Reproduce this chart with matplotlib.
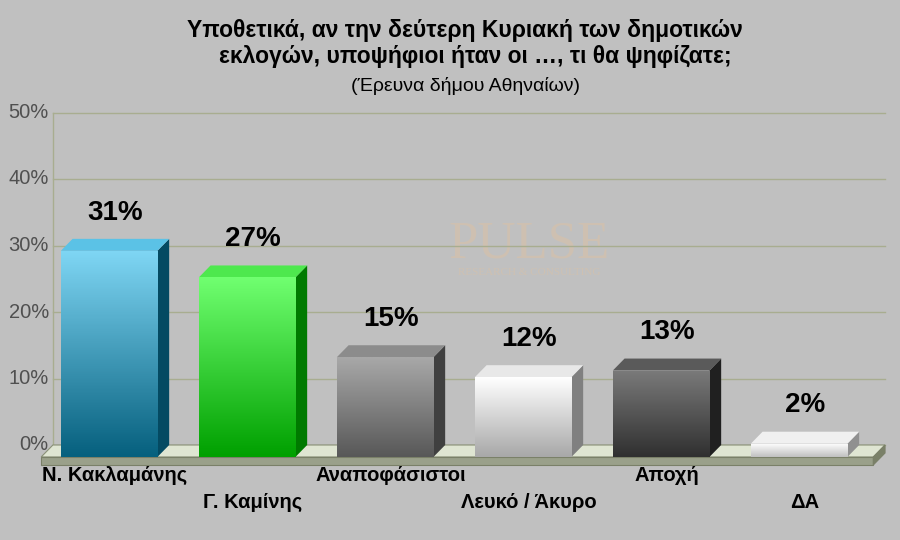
import matplotlib
matplotlib.use("Agg")
import matplotlib.pyplot as plt
import numpy as np
from matplotlib.patches import Polygon, Rectangle
from matplotlib.colors import LinearSegmentedColormap

plt.rcParams["font.family"] = ["Liberation Sans", "DejaVu Sans"]

title_lines = ["Υποθετικά, αν την δεύτερη Κυριακή των δημοτικών",
               "εκλογών, υποψήφιοι ήταν οι …, τι θα ψηφίζατε;"]
subtitle = "(Έρευνα δήμου Αθηναίων)"
categories = ["Ν. Κακλαμάνης", "Γ. Καμίνης", "Αναποφάσιστοι",
              "Λευκό / Άκυρο", "Αποχή", "ΔΑ"]
values = [31, 27, 15, 12, 13, 2]
ticks = [0, 10, 20, 30, 40, 50]
# (top colour, bottom colour, side colour, top-face colour)
colors = [("#7fd6f4", "#06607e", "#044a62", "#5bc2e6"),
          ("#70ff70", "#00a000", "#007a00", "#4ee84e"),
          ("#a8a8a8", "#585858", "#404040", "#8c8c8c"),
          ("#ffffff", "#a8a8a8", "#808080", "#e8e8e8"),
          ("#7a7a7a", "#303030", "#202020", "#5a5a5a"),
          ("#ffffff", "#c0c0c0", "#909090", "#f0f0f0")]

BG = "#c0c0c0"
fig = plt.figure(figsize=(9, 5.4), dpi=100, facecolor=BG)
ax = fig.add_axes([0, 0, 1, 1])
ax.set_facecolor(BG)
ax.set_xlim(-115 / 138, 785 / 138)
ax.set_ylim(-95 / 6.65, 445 / 6.65)
ax.axis("off")

dx, dy = 0.085, 1.8   # depth offset
w = 0.70
xl, xr = -0.45, 5.58
slab = 1.2

for t in ticks:
    ax.plot([xl, xr], [t, t], color="#a8ad90", lw=1, zorder=1)
    ax.text(xl - 0.03, t, f"{t}%", ha="right", va="center", fontsize=14.5,
            color="#505050")
ax.plot([xl, xl], [0, 50], color="#a8ad90", lw=1, zorder=1)

# floor
ax.add_patch(Polygon([(xl, 0), (xr, 0), (xr - dx, -dy), (xl - dx, -dy)],
                     closed=True, fc="#dfe5d2", ec="#8a9078", lw=0.8, zorder=2))
ax.add_patch(Polygon([(xl - dx, -dy), (xr - dx, -dy), (xr - dx, -dy - slab), (xl - dx, -dy - slab)],
                     closed=True, fc="#9aa08a", ec="#7a8068", lw=0.8, zorder=2))
ax.add_patch(Polygon([(xr - dx, -dy), (xr, 0), (xr, -slab), (xr - dx, -dy - slab)],
                     closed=True, fc="#7a8068", ec="#7a8068", lw=0.8, zorder=2))

for i, (v, (ctop, cbot, cside, ctopf)) in enumerate(zip(values, colors)):
    x0 = i - w / 2 - dx / 2
    x1 = x0 + w
    y0, y1 = -dy, v - dy
    ax.add_patch(Polygon([(x1, y0), (x1 + dx, y0 + dy), (x1 + dx, y1 + dy), (x1, y1)],
                         closed=True, fc=cside, ec="none", zorder=3))
    ax.add_patch(Polygon([(x0, y1), (x1, y1), (x1 + dx, y1 + dy), (x0 + dx, y1 + dy)],
                         closed=True, fc=ctopf, ec="none", zorder=3))
    rect = Rectangle((x0, y0), w, v, fc="none", ec="none", zorder=3)
    ax.add_patch(rect)
    cmap = LinearSegmentedColormap.from_list("g", [cbot, ctop])
    grad = np.linspace(0, 1, 100).reshape(-1, 1)
    im = ax.imshow(grad, cmap=cmap, extent=[x0, x1, y0, y1], origin="lower",
                   aspect="auto", zorder=3)
    im.set_clip_path(rect)
    ax.text(i, v + 2.0, f"{v}%", ha="center", va="bottom", fontsize=20,
            fontweight="bold", color="#000000", zorder=4)
    ly = -4.6 if i % 2 == 0 else -8.7
    ax.text(i, ly, categories[i], ha="center", va="center", fontsize=14.5,
            fontweight="bold", color="#000000")

# watermark
ax.text(3.0, 30.2, "PULSE", ha="center", va="center", fontsize=38,
        family="Liberation Serif", color="#d8c0a8", alpha=0.6, zorder=0.5)
ax.text(3.0, 25.9, "RESEARCH & CONSULTING", ha="center", va="center", fontsize=8,
        family="Liberation Serif", color="#d8c0a8", alpha=0.6, zorder=0.5)

fig.text(465 / 900, 1 - 30 / 540, title_lines[0], ha="center", va="center",
         fontsize=16.5, fontweight="bold")
fig.text(475 / 900, 1 - 57 / 540, title_lines[1], ha="center", va="center",
         fontsize=16.5, fontweight="bold")
fig.text(465 / 900, 1 - 86 / 540, subtitle, ha="center", va="center", fontsize=14)

fig.savefig("out.png", dpi=100, facecolor=BG)
